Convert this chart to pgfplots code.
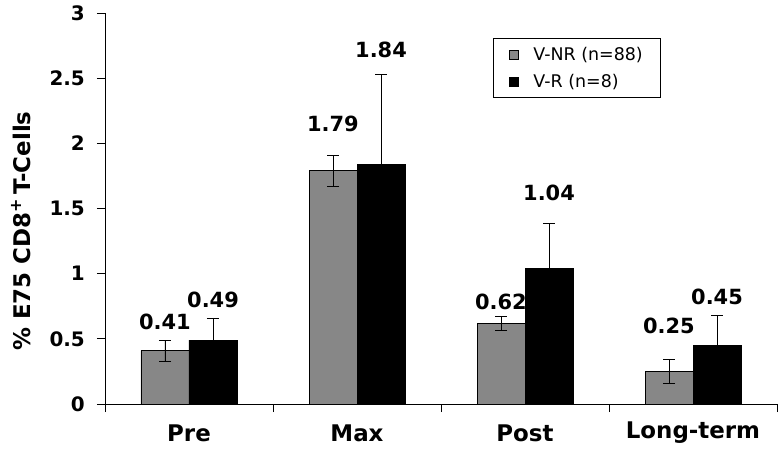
\documentclass[border=0pt]{standalone}
\usepackage{pgfplots}
\pgfplotsset{compat=1.18}
\usepackage{fontspec}
\setmainfont{DejaVu Sans}
\definecolor{barg}{RGB}{135,135,135}
\begin{document}
\begin{tikzpicture}
\begin{axis}[
  scale only axis, width=672bp, height=391bp,
  xmin=-0.5, xmax=3.5, ymin=0, ymax=3,
  axis lines=left, axis line style={-, line width=0.8bp},
  ybar=0pt, bar width=48bp,
  tick align=outside, major tick length=8bp,
  tick style={black, line width=0.8bp},
  xtick={-0.5,0.5,1.5,2.5,3.5}, xticklabels={},
  extra x ticks={0,1,2,3},
  extra x tick labels={Pre,Max,Post,Long-term},
  extra x tick style={major tick length=0pt},
  xticklabel style={font=\bfseries\fontsize{23}{25}\selectfont, anchor=center, yshift=-29bp},
  ytick={0,0.5,1,1.5,2,2.5,3}, yticklabels={},
  ylabel={\% E75 CD8\textsuperscript{+}\,T-Cells},
  ylabel style={font=\bfseries\fontsize{23}{25}\selectfont, at={(axis description cs:-0.125,0.442)}, anchor=center},
  legend style={at={(rel axis cs:0.577,0.936)}, anchor=north west, draw=black, line width=0.8bp,
    font=\fontsize{17.5}{20}\selectfont, inner xsep=16bp, inner ysep=7bp, row sep=8bp},
  legend cell align=left,
  legend image code/.code={\draw[#1, draw=black, line width=0.6bp] (0bp,-4.5bp) rectangle (9bp,4.5bp); \path[draw=none, fill=none] (0bp,0bp) -- (22bp,0bp);},
  clip=false,
]
\addplot[fill=barg, draw=black, line width=0.8bp,
  error bars/.cd, y dir=both, y explicit, error mark options={rotate=90, mark size=6bp, line width=0.8bp}, error bar style={line width=0.8bp, black}]
  table[x=x, y=y, y error=e] {
x y e
0 0.41 0.08
1 1.79 0.12
2 0.62 0.055
3 0.25 0.09
};
\addplot[fill=black, draw=black, line width=0.8bp,
  error bars/.cd, y dir=plus, y explicit, error mark options={rotate=90, mark size=6bp, line width=0.8bp}, error bar style={line width=0.8bp, black}]
  table[x=x, y=y, y error=e] {
x y e
0 0.49 0.17
1 1.84 0.69
2 1.04 0.345
3 0.45 0.23
};
\legend{V-NR (n=88), V-R (n=8)}
\tikzset{vl/.style={font=\bfseries\fontsize{21}{23}\selectfont, anchor=center},
         yl/.style={font=\bfseries\fontsize{20}{22}\selectfont, anchor=east, inner sep=0pt, xshift=-20bp}}
\node[yl] at (axis cs:-0.5,0) {0};
\node[yl] at (axis cs:-0.5,0.5) {0.5};
\node[yl] at (axis cs:-0.5,1) {1};
\node[yl] at (axis cs:-0.5,1.5) {1.5};
\node[yl] at (axis cs:-0.5,2) {2};
\node[yl] at (axis cs:-0.5,2.5) {2.5};
\node[yl] at (axis cs:-0.5,3) {3};
\node[vl] at (axis cs:-0.143,0.63) {0.41};
\node[vl] at (axis cs:0.143,0.80) {0.49};
\node[vl] at (axis cs:0.857,2.15) {1.79};
\node[vl] at (axis cs:1.143,2.72) {1.84};
\node[vl] at (axis cs:1.857,0.78) {0.62};
\node[vl] at (axis cs:2.143,1.62) {1.04};
\node[vl] at (axis cs:2.857,0.60) {0.25};
\node[vl] at (axis cs:3.143,0.82) {0.45};
\coordinate (ll) at (rel axis cs:0,0);
\coordinate (ur) at (rel axis cs:1,1);
\end{axis}
\pgfresetboundingbox
\path[use as bounding box] ([shift={(-105bp,-46bp)}]ll) rectangle ([shift={(2bp,13bp)}]ur);
\end{tikzpicture}
\end{document}
